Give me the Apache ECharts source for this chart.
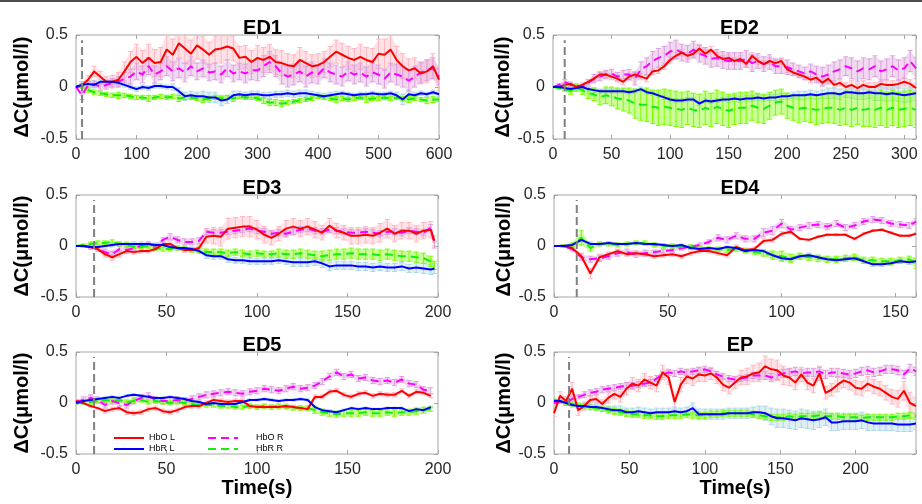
<!DOCTYPE html>
<html><head><meta charset="utf-8">
<script src="https://cdn.jsdelivr.net/npm/echarts@6/dist/echarts.min.js"></script>
<style>html,body{margin:0;padding:0;background:#fff}#c{width:922px;height:504px}</style>
</head><body><div id="c"></div>
<script>
// ---------------- DATA ----------------
const SERIES_NAMES = ['HbO L', 'HbR L', 'HbO R', 'HbR R'];
const PANEL_TITLES = ['ED1', 'ED2', 'ED3', 'ED4', 'ED5', 'EP'];
const X_MAX = [600, 310, 200, 159, 200, 240];
const X_STEP = [100, 50, 50, 50, 50, 50];
const Y_TICKS = [-0.5, 0, 0.5];
const ONSET_T = 10;
const ONSET_Y = [-0.5, 0.45];

// ED1
const ED1_t = [0,10,20,30,40,50,60,70,80,90,100,110,120,130,140,150,160,170,180,190,200,210,220,230,240,250,260,270,280,290,300,310,320,330,340,350,360,370,380,390,400,410,420,430,440,450,460,470,480,490,500,510,520,530,540,550,560,570,580,590,600];
const ED1_HbO_L = [0,0.02,0.07,0.15,0.1,0.05,0.05,0.07,0.15,0.24, 0.29,0.23,0.28,0.23,0.24,0.36,0.31,0.42,0.37,0.32, 0.4,0.36,0.31,0.36,0.37,0.39,0.37,0.28,0.29,0.24, 0.28,0.26,0.29,0.24,0.23,0.21,0.2,0.26,0.23,0.2, 0.21,0.24,0.29,0.34,0.31,0.28,0.26,0.29,0.26,0.24, 0.32,0.31,0.36,0.26,0.2,0.16,0.18,0.13,0.15,0.2, 0.07];
const ED1_HbO_L_err = [0.01,0.03,0.04,0.05,0.05,0.05,0.06,0.07,0.09,0.1, 0.12,0.12,0.13,0.13,0.14,0.15,0.15,0.14,0.14,0.13, 0.13,0.13,0.12,0.13,0.14,0.13,0.12,0.11,0.11,0.11, 0.12,0.12,0.12,0.12,0.12,0.11,0.11,0.12,0.11,0.11, 0.11,0.1,0.1,0.11,0.11,0.11,0.11,0.12,0.12,0.13, 0.14,0.15,0.15,0.13,0.12,0.11,0.1,0.1,0.11,0.12, 0.1];
const ED1_HbR_L = [0,0.02,0.03,0.02,0.05,0.05,0.05,0.04,0.02,0.0, -0.02,0.0,-0.01,0.01,0.01,0.0,0.0,-0.04,-0.09,-0.08, -0.09,-0.09,-0.1,-0.1,-0.13,-0.12,-0.08,-0.07,-0.08,-0.07, -0.07,-0.08,-0.08,-0.07,-0.07,-0.06,-0.07,-0.06,-0.06,-0.07, -0.08,-0.09,-0.08,-0.07,-0.06,-0.07,-0.08,-0.07,-0.07,-0.06, -0.07,-0.07,-0.06,-0.08,-0.12,-0.07,-0.08,-0.06,-0.07,-0.05, -0.07];
const ED1_HbR_L_err = [0.01,0.03,0.03,0.03,0.02,0.02,0.02,0.02,0.02,0.02, 0.02,0.02,0.02,0.02,0.02,0.02,0.03,0.03,0.04,0.04, 0.04,0.05,0.05,0.05,0.05,0.04,0.04,0.03,0.03,0.03, 0.03,0.03,0.03,0.03,0.03,0.03,0.03,0.03,0.03,0.03, 0.03,0.03,0.03,0.03,0.02,0.02,0.02,0.02,0.02,0.02, 0.02,0.02,0.02,0.03,0.05,0.04,0.03,0.02,0.02,0.02, 0.02];
const ED1_HbO_R = [0,-0.08,0.02,0.03,0.0,0.02,0.04,0.05,0.08,0.1, 0.15,0.12,0.2,0.12,0.15,0.2,0.15,0.18,0.14,0.2, 0.15,0.18,0.14,0.15,0.12,0.18,0.13,0.15,0.13,0.16, 0.16,0.2,0.24,0.2,0.13,0.1,0.12,0.15,0.1,0.14, 0.12,0.18,0.14,0.12,0.1,0.15,0.12,0.14,0.1,0.14, 0.12,0.08,0.14,0.12,0.1,0.06,0.1,0.14,0.16,0.18, 0.1];
const ED1_HbO_R_err = [0.01,0.04,0.03,0.03,0.03,0.04,0.04,0.05,0.06,0.07, 0.08,0.08,0.08,0.08,0.08,0.09,0.09,0.09,0.09,0.09, 0.08,0.08,0.08,0.08,0.08,0.08,0.08,0.08,0.09,0.09, 0.1,0.1,0.1,0.1,0.1,0.1,0.1,0.1,0.1,0.1, 0.09,0.09,0.09,0.09,0.09,0.09,0.09,0.09,0.09,0.09, 0.09,0.09,0.09,0.1,0.1,0.1,0.1,0.1,0.1,0.1, 0.08];
const ED1_HbR_R = [0,0.01,-0.03,-0.05,-0.06,-0.07,-0.08,-0.08,-0.08,-0.09, -0.1,-0.1,-0.11,-0.1,-0.09,-0.1,-0.09,-0.11,-0.1,-0.1, -0.11,-0.12,-0.11,-0.1,-0.11,-0.1,-0.11,-0.09,-0.1,-0.1, -0.11,-0.13,-0.15,-0.15,-0.16,-0.15,-0.14,-0.13,-0.12,-0.11, -0.09,-0.1,-0.11,-0.12,-0.11,-0.12,-0.11,-0.1,-0.12,-0.11, -0.11,-0.1,-0.11,-0.1,-0.11,-0.12,-0.11,-0.12,-0.13,-0.12, -0.12];
const ED1_HbR_R_err = [0.01,0.02,0.02,0.02,0.02,0.02,0.02,0.03,0.02,0.02, 0.02,0.02,0.03,0.02,0.02,0.02,0.02,0.03,0.02,0.02, 0.02,0.03,0.02,0.02,0.02,0.02,0.03,0.02,0.02,0.02, 0.02,0.03,0.03,0.03,0.03,0.02,0.02,0.02,0.02,0.02, 0.02,0.02,0.02,0.03,0.02,0.02,0.02,0.02,0.03,0.02, 0.02,0.02,0.02,0.02,0.02,0.03,0.02,0.02,0.03,0.03, 0.02];

// ED2
const ED2_t = [0,5,10,15,20,25,30,35,40,45,50,55,60,65,70,75,80,85,90,95,100,105,110,115,120,125,130,135,140,145,150,155,160,165,170,175,180,185,190,195,200,205,210,215,220,225,230,235,240,245,250,255,260,265,270,275,280,285,290,295,300,305,310];
const ED2_HbO_L = [0,0.0,0.02,0.03,0.0,0.02,0.05,0.08,0.12,0.12, 0.1,0.08,0.05,0.1,0.12,0.1,0.08,0.15,0.16,0.2, 0.26,0.3,0.33,0.3,0.32,0.37,0.32,0.36,0.3,0.27, 0.28,0.25,0.27,0.22,0.3,0.25,0.22,0.25,0.23,0.25, 0.17,0.14,0.12,0.1,0.07,0.09,0.04,0.08,0.02,0.04, 0.0,0.02,-0.01,0.02,0.0,0.0,0.03,0.02,0.02,0.03, 0.05,0.03,-0.01];
const ED2_HbO_L_err = [0,0.01,0.02,0.02,0.02,0.02,0.02,0.02,0.03,0.03, 0.03,0.03,0.03,0.03,0.03,0.03,0.03,0.03,0.03,0.03, 0.03,0.03,0.03,0.03,0.03,0.04,0.04,0.03,0.03,0.03, 0.03,0.03,0.03,0.03,0.03,0.03,0.03,0.03,0.03,0.03, 0.03,0.03,0.03,0.03,0.03,0.03,0.03,0.03,0.03,0.03, 0.04,0.04,0.04,0.04,0.04,0.04,0.04,0.04,0.04,0.04, 0.04,0.04,0.04];
const ED2_HbR_L = [0,0,-0.01,-0.02,-0.01,0,-0.02,-0.03,-0.04,-0.04, -0.04,-0.04,-0.04,-0.05,-0.04,-0.02,-0.05,-0.06,-0.08,-0.1, -0.12,-0.13,-0.13,-0.12,-0.12,-0.16,-0.13,-0.14,-0.13,-0.12, -0.12,-0.11,-0.12,-0.11,-0.11,-0.1,-0.11,-0.1,-0.1,-0.09, -0.09,-0.08,-0.08,-0.08,-0.07,-0.08,-0.07,-0.06,-0.06,-0.07, -0.05,-0.05,-0.06,-0.06,-0.05,-0.06,-0.06,-0.07,-0.06,-0.07, -0.08,-0.07,-0.06];
const ED2_HbR_L_err = [0,0.01,0.01,0.02,0.02,0.02,0.02,0.02,0.02,0.02, 0.02,0.02,0.02,0.02,0.02,0.02,0.02,0.02,0.02,0.02, 0.02,0.02,0.02,0.02,0.02,0.02,0.02,0.02,0.02,0.02, 0.03,0.03,0.03,0.03,0.03,0.03,0.03,0.03,0.03,0.03, 0.03,0.03,0.04,0.04,0.04,0.04,0.04,0.05,0.05,0.05, 0.05,0.06,0.06,0.06,0.06,0.07,0.07,0.07,0.07,0.07, 0.07,0.07,0.07];
const ED2_HbO_R = [0,0.02,0.05,0.02,0.01,0.0,0.04,0.08,0.1,0.12, 0.13,0.1,0.12,0.12,0.08,0.17,0.2,0.25,0.28,0.3, 0.34,0.36,0.33,0.32,0.36,0.32,0.3,0.27,0.28,0.26, 0.25,0.25,0.25,0.27,0.23,0.25,0.22,0.24,0.2,0.2, 0.19,0.17,0.15,0.13,0.15,0.12,0.1,0.12,0.15,0.17, 0.2,0.18,0.15,0.18,0.17,0.2,0.15,0.17,0.2,0.16, 0.18,0.25,0.18];
const ED2_HbO_R_err = [0,0.01,0.02,0.02,0.02,0.02,0.03,0.04,0.04,0.04, 0.04,0.04,0.04,0.05,0.06,0.07,0.08,0.09,0.09,0.09, 0.09,0.09,0.08,0.08,0.08,0.08,0.08,0.08,0.08,0.08, 0.08,0.08,0.08,0.08,0.08,0.07,0.07,0.07,0.07,0.07, 0.07,0.06,0.06,0.06,0.07,0.08,0.09,0.09,0.09,0.09, 0.09,0.1,0.1,0.1,0.1,0.1,0.1,0.1,0.1,0.1, 0.1,0.1,0.1];
const ED2_HbR_R = [0,-0.01,-0.02,-0.04,-0.01,-0.03,-0.06,-0.07,-0.1,-0.08, -0.09,-0.11,-0.12,-0.13,-0.16,-0.17,-0.17,-0.19,-0.2,-0.19, -0.2,-0.21,-0.22,-0.2,-0.22,-0.23,-0.2,-0.22,-0.19,-0.21, -0.23,-0.21,-0.2,-0.2,-0.18,-0.2,-0.21,-0.18,-0.15,-0.14, -0.18,-0.2,-0.21,-0.2,-0.21,-0.22,-0.21,-0.2,-0.2,-0.22, -0.2,-0.22,-0.2,-0.22,-0.21,-0.22,-0.2,-0.22,-0.2,-0.22, -0.21,-0.2,-0.22];
const ED2_HbR_R_err = [0,0.01,0.02,0.03,0.03,0.04,0.05,0.06,0.07,0.08, 0.09,0.1,0.11,0.12,0.14,0.15,0.16,0.16,0.17,0.17, 0.17,0.17,0.17,0.16,0.16,0.16,0.16,0.16,0.16,0.16, 0.16,0.15,0.15,0.15,0.14,0.14,0.14,0.13,0.12,0.12, 0.12,0.12,0.13,0.13,0.13,0.14,0.14,0.14,0.15,0.15, 0.16,0.16,0.16,0.16,0.17,0.17,0.17,0.17,0.17,0.17, 0.17,0.17,0.17];

// ED3
const ED3_t = [0,4,8,12,16,20,24,28,32,36,40,44,48,52,56,60,64,68,72,76,80,84,88,92,96,100,104,108,112,116,120,124,128,132,136,140,144,148,152,156,160,164,168,172,176,180,184,188,192,196,198];
const ED3_HbO_L = [0,0,-0.01,-0.03,-0.08,-0.11,-0.08,-0.05,-0.06,-0.05, -0.05,-0.03,0.02,0.02,-0.02,-0.04,-0.04,-0.02,0.09,0.1, 0.09,0.17,0.18,0.19,0.19,0.16,0.11,0.08,0.12,0.17, 0.19,0.17,0.19,0.16,0.13,0.2,0.15,0.13,0.1,0.1, 0.11,0.1,0.13,0.17,0.12,0.15,0.15,0.12,0.15,0.16, 0.05];
const ED3_HbO_L_err = [0,0.01,0.02,0.02,0.03,0.03,0.03,0.02,0.02,0.02, 0.02,0.02,0.02,0.02,0.02,0.02,0.02,0.03,0.06,0.08, 0.09,0.1,0.1,0.1,0.1,0.09,0.08,0.07,0.07,0.08, 0.08,0.08,0.08,0.08,0.07,0.07,0.07,0.07,0.08,0.08, 0.08,0.08,0.09,0.09,0.08,0.08,0.08,0.08,0.08,0.08, 0.05];
const ED3_HbR_L = [0,0,-0.01,-0.01,0.0,0.01,0.02,0.02,0.02,0.02, 0.02,0.01,0.01,-0.01,-0.02,-0.02,-0.03,-0.05,-0.09,-0.1, -0.1,-0.13,-0.14,-0.14,-0.15,-0.15,-0.15,-0.15,-0.14,-0.15, -0.16,-0.16,-0.16,-0.15,-0.17,-0.2,-0.19,-0.19,-0.19,-0.2, -0.2,-0.21,-0.2,-0.21,-0.21,-0.2,-0.22,-0.21,-0.22,-0.23, -0.22];
const ED3_HbR_L_err = [0,0.01,0.01,0.01,0.01,0.02,0.02,0.02,0.02,0.02, 0.02,0.02,0.02,0.02,0.02,0.02,0.02,0.02,0.03,0.03, 0.03,0.03,0.03,0.03,0.03,0.03,0.03,0.03,0.03,0.03, 0.04,0.04,0.04,0.04,0.04,0.04,0.04,0.04,0.04,0.04, 0.04,0.04,0.04,0.04,0.04,0.04,0.04,0.05,0.05,0.05, 0.05];
const ED3_HbO_R = [0,0,-0.01,-0.03,-0.06,-0.08,-0.03,-0.04,-0.02,0.0, 0.02,0.0,0.06,0.09,0.06,0.04,0.04,0.05,0.14,0.13, 0.13,0.14,0.15,0.16,0.17,0.15,0.14,0.12,0.13,0.12, 0.14,0.16,0.17,0.15,0.14,0.16,0.15,0.14,0.13,0.13, 0.14,0.13,0.12,0.14,0.14,0.13,0.15,0.14,0.13,0.18, 0.01];
const ED3_HbO_R_err = [0,0.01,0.02,0.02,0.03,0.03,0.03,0.03,0.02,0.02, 0.02,0.02,0.02,0.03,0.03,0.03,0.03,0.03,0.03,0.03, 0.03,0.03,0.03,0.03,0.03,0.03,0.03,0.03,0.03,0.03, 0.03,0.03,0.03,0.03,0.03,0.03,0.03,0.03,0.03,0.03, 0.03,0.03,0.03,0.03,0.03,0.03,0.03,0.03,0.03,0.03, 0.03];
const ED3_HbR_R = [0,0.01,0.02,0.03,0.03,0.04,0.02,0.01,-0.01,-0.01, 0.0,-0.02,-0.03,-0.03,-0.02,-0.03,-0.04,-0.04,-0.06,-0.06, -0.06,-0.07,-0.06,-0.07,-0.08,-0.07,-0.08,-0.08,-0.07,-0.08, -0.08,-0.07,-0.08,-0.09,-0.1,-0.09,-0.08,-0.08,-0.07,-0.08, -0.08,-0.08,-0.09,-0.08,-0.09,-0.1,-0.1,-0.11,-0.12,-0.15, -0.19];
const ED3_HbR_R_err = [0,0.01,0.02,0.02,0.02,0.02,0.02,0.02,0.02,0.02, 0.02,0.02,0.02,0.02,0.02,0.02,0.02,0.03,0.03,0.03, 0.03,0.03,0.03,0.03,0.03,0.03,0.03,0.03,0.04,0.04, 0.04,0.04,0.04,0.04,0.05,0.05,0.05,0.05,0.05,0.05, 0.05,0.05,0.05,0.05,0.05,0.05,0.05,0.05,0.05,0.05, 0.04];

// ED4
const ED4_t = [0,4,8,12,16,20,24,28,32,36,40,44,48,52,56,60,64,68,72,76,80,84,88,92,96,100,104,108,112,116,120,124,128,132,136,140,144,148,152,156,159];
const ED4_HbO_L = [0,0,-0.02,-0.1,-0.27,-0.11,-0.08,-0.05,-0.08,-0.07, -0.08,-0.1,-0.09,-0.08,-0.1,-0.07,-0.05,-0.05,-0.07,-0.09, -0.01,-0.04,-0.03,0.05,0.06,0.12,0.14,0.07,0.06,0.09, 0.11,0.11,0.11,0.07,0.12,0.15,0.16,0.13,0.1,0.1, 0.12];
const ED4_HbO_L_err = [0,0.01,0.02,0.03,0.05,0.03,0.02,0.02,0.02,0.02, 0.02,0.02,0.02,0.02,0.02,0.02,0.02,0.02,0.02,0.02, 0.02,0.02,0.02,0.02,0.02,0.02,0.02,0.01,0.01,0.01, 0.01,0.01,0.01,0.01,0.01,0.01,0.01,0.01,0.01,0.01, 0.01];
const ED4_HbR_L = [0,0,0.01,0.06,0.02,0.02,0.03,0.02,0.02,0.03, 0.02,0.02,0.01,0.0,0.01,-0.02,-0.03,-0.02,-0.03,-0.01, -0.02,-0.05,-0.04,-0.05,-0.09,-0.12,-0.13,-0.1,-0.09,-0.11, -0.13,-0.14,-0.13,-0.12,-0.15,-0.18,-0.18,-0.17,-0.15,-0.16, -0.15];
const ED4_HbR_L_err = [0,0.01,0.01,0.02,0.02,0.01,0.01,0.01,0.01,0.01, 0.01,0.01,0.01,0.01,0.01,0.01,0.01,0.01,0.01,0.01, 0.01,0.01,0.01,0.01,0.02,0.02,0.02,0.02,0.02,0.02, 0.02,0.02,0.02,0.02,0.02,0.02,0.02,0.02,0.02,0.02, 0.02];
const ED4_HbO_R = [0,0,-0.03,-0.11,-0.13,-0.12,-0.1,-0.07,-0.06,-0.08, -0.07,-0.06,-0.05,-0.04,-0.02,-0.01,0.01,0.04,0.08,0.06, 0.1,0.07,0.07,0.13,0.15,0.22,0.16,0.18,0.2,0.21, 0.19,0.22,0.18,0.2,0.24,0.26,0.25,0.22,0.21,0.2, 0.24];
const ED4_HbO_R_err = [0,0.01,0.02,0.03,0.03,0.03,0.03,0.03,0.03,0.03, 0.03,0.02,0.02,0.02,0.02,0.02,0.02,0.02,0.03,0.03, 0.03,0.03,0.03,0.04,0.04,0.04,0.03,0.03,0.03,0.03, 0.03,0.03,0.03,0.03,0.03,0.03,0.03,0.03,0.03,0.03, 0.03];
const ED4_HbR_R = [0,0,0.01,0.08,-0.02,0.02,0.02,0.01,0.02,0.03, 0.03,0.01,0.0,0.0,-0.01,-0.01,-0.02,-0.03,-0.03,-0.04, -0.03,-0.05,-0.06,-0.07,-0.09,-0.1,-0.12,-0.1,-0.11,-0.12, -0.13,-0.13,-0.12,-0.11,-0.14,-0.14,-0.15,-0.15,-0.14,-0.13, -0.17];
const ED4_HbR_R_err = [0,0.01,0.02,0.07,0.03,0.02,0.02,0.02,0.02,0.02, 0.02,0.02,0.02,0.02,0.02,0.02,0.02,0.02,0.02,0.02, 0.02,0.02,0.02,0.03,0.04,0.05,0.04,0.03,0.03,0.03, 0.03,0.03,0.03,0.03,0.03,0.03,0.03,0.03,0.03,0.03, 0.05];

// ED5
const ED5_t = [0,4,8,12,16,20,24,28,32,36,40,44,48,52,56,60,64,68,72,76,80,84,88,92,96,100,104,108,112,116,120,124,128,132,136,140,144,148,152,156,160,164,168,172,176,180,184,188,192,196];
const ED5_HbO_L = [0.02,0.0,-0.03,-0.05,-0.08,-0.06,-0.05,-0.09,-0.1,-0.09, -0.06,-0.05,-0.08,-0.09,-0.07,-0.04,-0.03,-0.03,0.0,0.03, 0.02,0.01,0.02,0.02,-0.03,-0.04,-0.04,-0.04,-0.04,-0.03, -0.04,-0.05,-0.06,0.06,0.06,0.11,0.12,0.08,0.06,0.09, 0.1,0.07,0.09,0.08,0.08,0.12,0.07,0.11,0.1,0.07];
const ED5_HbO_L_err = [0.01,0.01,0.01,0.01,0.02,0.02,0.02,0.02,0.02,0.02, 0.02,0.02,0.02,0.02,0.02,0.02,0.02,0.02,0.02,0.02, 0.02,0.02,0.02,0.02,0.02,0.02,0.02,0.02,0.02,0.02, 0.02,0.02,0.02,0.02,0.02,0.02,0.02,0.02,0.02,0.02, 0.02,0.02,0.02,0.02,0.02,0.02,0.02,0.02,0.02,0.02];
const ED5_HbR_L = [0,0.02,0.03,0.04,0.05,0.06,0.05,0.07,0.08,0.07, 0.06,0.05,0.05,0.06,0.05,0.04,0.02,0.01,-0.01,0.0, -0.01,-0.01,-0.01,0.01,0.03,0.03,0.04,0.03,0.02,0.03, 0.03,0.04,0.03,-0.04,-0.07,-0.08,-0.09,-0.07,-0.05,-0.06, -0.05,-0.06,-0.06,-0.05,-0.05,-0.05,-0.08,-0.06,-0.07,-0.04];
const ED5_HbR_L_err = [0.01,0.01,0.01,0.01,0.01,0.01,0.01,0.01,0.01,0.01, 0.01,0.01,0.01,0.01,0.01,0.01,0.01,0.01,0.01,0.01, 0.01,0.01,0.01,0.01,0.01,0.01,0.01,0.01,0.01,0.01, 0.01,0.01,0.01,0.01,0.01,0.01,0.01,0.01,0.01,0.01, 0.01,0.01,0.01,0.01,0.01,0.01,0.01,0.01,0.01,0.01];
const ED5_HbO_R = [0.01,0.03,0.05,0.03,-0.02,0.02,0.0,-0.02,0.02,0.05, 0.07,0.03,0.02,0.02,0.03,0.02,0.04,0.06,0.08,0.09, 0.1,0.11,0.1,0.09,0.11,0.12,0.14,0.13,0.12,0.14, 0.16,0.14,0.15,0.17,0.21,0.26,0.3,0.26,0.28,0.24, 0.25,0.22,0.21,0.22,0.2,0.23,0.19,0.18,0.13,0.12];
const ED5_HbO_R_err = [0.02,0.03,0.03,0.03,0.03,0.03,0.03,0.03,0.03,0.03, 0.03,0.03,0.03,0.03,0.03,0.03,0.03,0.03,0.03,0.03, 0.03,0.03,0.03,0.03,0.03,0.03,0.03,0.03,0.03,0.03, 0.03,0.03,0.03,0.03,0.03,0.03,0.03,0.03,0.03,0.03, 0.03,0.03,0.03,0.03,0.03,0.03,0.03,0.03,0.03,0.03];
const ED5_HbR_R = [0,0.0,0.01,0.02,0.03,0.02,0.03,0.01,0.02,0.03, 0.01,0.02,0.01,0.0,0.01,0.0,-0.01,-0.02,-0.02,-0.02, -0.03,-0.03,-0.04,-0.04,-0.03,-0.04,-0.03,-0.04,-0.03,-0.04, -0.05,-0.05,-0.05,-0.07,-0.09,-0.1,-0.11,-0.1,-0.1,-0.1, -0.09,-0.1,-0.1,-0.09,-0.1,-0.09,-0.09,-0.08,-0.07,-0.06];
const ED5_HbR_R_err = [0.01,0.01,0.02,0.02,0.02,0.02,0.02,0.02,0.02,0.02, 0.02,0.02,0.02,0.02,0.02,0.02,0.02,0.02,0.02,0.02, 0.02,0.02,0.02,0.02,0.02,0.02,0.02,0.02,0.02,0.02, 0.02,0.02,0.02,0.03,0.03,0.03,0.03,0.03,0.03,0.03, 0.03,0.03,0.03,0.03,0.03,0.03,0.03,0.03,0.03,0.02];

// EP
const EP_t = [0,4,8,12,16,20,24,28,32,36,40,44,48,52,56,60,64,68,72,76,80,84,88,92,96,100,104,108,112,116,120,124,128,132,136,140,144,148,152,156,160,164,168,172,176,180,184,188,192,196,200,204,208,212,216,220,224,228,232,236,240];
const EP_HbO_L = [-0.1,0.07,0.02,0.14,-0.07,-0.03,0.03,0.04,-0.01,0.05, 0.09,0.06,0.14,0.19,0.17,0.23,0.2,0.17,0.3,0.25, 0.01,0.18,0.26,0.24,0.28,0.27,0.29,0.25,0.18,0.15, 0.2,0.25,0.26,0.29,0.3,0.36,0.33,0.32,0.27,0.25, 0.2,0.28,0.2,0.17,0.29,0.1,0.13,0.18,0.22,0.2, 0.15,0.14,0.19,0.16,0.14,0.1,0.06,0.04,0.12,0.0, -0.03];
const EP_HbO_L_err = [0.03,0.04,0.04,0.06,0.05,0.04,0.04,0.04,0.04,0.05, 0.05,0.05,0.06,0.06,0.06,0.06,0.06,0.06,0.07,0.07, 0.07,0.07,0.07,0.07,0.07,0.06,0.06,0.06,0.06,0.06, 0.06,0.07,0.08,0.08,0.09,0.1,0.1,0.1,0.09,0.08, 0.07,0.07,0.07,0.07,0.07,0.06,0.06,0.07,0.07,0.07, 0.07,0.07,0.07,0.07,0.07,0.07,0.07,0.08,0.09,0.1, 0.08];
const EP_HbR_L = [0.02,0.02,0.0,-0.02,-0.03,-0.03,-0.04,-0.04,-0.05,-0.06, -0.07,-0.07,-0.09,-0.09,-0.08,-0.09,-0.1,-0.09,-0.09,-0.09, -0.08,-0.09,-0.08,-0.05,-0.11,-0.11,-0.11,-0.11,-0.11,-0.1, -0.1,-0.1,-0.1,-0.09,-0.09,-0.1,-0.13,-0.15,-0.15,-0.16, -0.17,-0.15,-0.16,-0.17,-0.16,-0.14,-0.19,-0.19,-0.18,-0.18, -0.18,-0.17,-0.19,-0.2,-0.2,-0.2,-0.2,-0.21,-0.21,-0.21, -0.2];
const EP_HbR_L_err = [0.01,0.01,0.02,0.02,0.02,0.03,0.03,0.03,0.03,0.03, 0.04,0.04,0.04,0.04,0.04,0.04,0.04,0.04,0.04,0.04, 0.04,0.04,0.04,0.05,0.05,0.05,0.05,0.05,0.05,0.05, 0.05,0.05,0.05,0.05,0.06,0.07,0.08,0.09,0.09,0.09, 0.09,0.09,0.09,0.09,0.08,0.08,0.08,0.08,0.08,0.08, 0.08,0.08,0.08,0.07,0.07,0.07,0.07,0.07,0.07,0.07, 0.06];
const EP_HbO_R = [0.0,0.01,0.0,0.04,0.06,0.08,0.1,0.11,0.13,0.14, 0.15,0.16,0.17,0.17,0.18,0.19,0.2,0.24,0.28,0.3, 0.29,0.31,0.3,0.31,0.32,0.33,0.31,0.28,0.26,0.24, 0.23,0.24,0.25,0.27,0.27,0.27,0.25,0.27,0.29,0.3, 0.31,0.29,0.3,0.3,0.31,0.28,0.3,0.3,0.29,0.28, 0.29,0.31,0.32,0.3,0.31,0.33,0.33,0.32,0.28,0.34, 0.31];
const EP_HbO_R_err = [0.01,0.01,0.02,0.02,0.02,0.03,0.03,0.03,0.03,0.03, 0.03,0.03,0.03,0.03,0.03,0.03,0.03,0.03,0.03,0.03, 0.03,0.03,0.03,0.03,0.03,0.03,0.03,0.03,0.03,0.03, 0.03,0.03,0.03,0.03,0.04,0.04,0.04,0.04,0.04,0.04, 0.04,0.04,0.04,0.04,0.04,0.04,0.04,0.04,0.04,0.04, 0.04,0.04,0.04,0.04,0.04,0.04,0.04,0.04,0.04,0.04, 0.04];
const EP_HbR_R = [0.03,0.02,0.0,-0.01,-0.02,-0.03,-0.04,-0.05,-0.06,-0.07, -0.08,-0.09,-0.1,-0.11,-0.11,-0.12,-0.12,-0.13,-0.13,-0.12, -0.12,-0.12,-0.11,-0.12,-0.12,-0.12,-0.11,-0.11,-0.1,-0.1, -0.1,-0.1,-0.1,-0.11,-0.12,-0.13,-0.14,-0.14,-0.14,-0.13, -0.14,-0.13,-0.13,-0.13,-0.12,-0.13,-0.13,-0.13,-0.14,-0.14, -0.14,-0.15,-0.14,-0.14,-0.14,-0.14,-0.14,-0.13,-0.13,-0.12, -0.13];
const EP_HbR_R_err = [0.01,0.01,0.02,0.02,0.02,0.02,0.02,0.02,0.02,0.03, 0.03,0.03,0.03,0.03,0.03,0.03,0.03,0.03,0.03,0.03, 0.03,0.03,0.03,0.03,0.03,0.03,0.03,0.03,0.03,0.03, 0.03,0.03,0.03,0.03,0.03,0.03,0.03,0.03,0.03,0.03, 0.03,0.03,0.03,0.03,0.03,0.03,0.03,0.03,0.03,0.03, 0.03,0.03,0.03,0.03,0.03,0.03,0.03,0.03,0.03,0.03, 0.03];

// ---------------- PANELS (references to the arrays above) ----------------
const PANEL_DATA = [
  {t: ED1_t, v: [ED1_HbO_L, ED1_HbR_L, ED1_HbO_R, ED1_HbR_R], e: [ED1_HbO_L_err, ED1_HbR_L_err, ED1_HbO_R_err, ED1_HbR_R_err]},
  {t: ED2_t, v: [ED2_HbO_L, ED2_HbR_L, ED2_HbO_R, ED2_HbR_R], e: [ED2_HbO_L_err, ED2_HbR_L_err, ED2_HbO_R_err, ED2_HbR_R_err]},
  {t: ED3_t, v: [ED3_HbO_L, ED3_HbR_L, ED3_HbO_R, ED3_HbR_R], e: [ED3_HbO_L_err, ED3_HbR_L_err, ED3_HbO_R_err, ED3_HbR_R_err]},
  {t: ED4_t, v: [ED4_HbO_L, ED4_HbR_L, ED4_HbO_R, ED4_HbR_R], e: [ED4_HbO_L_err, ED4_HbR_L_err, ED4_HbO_R_err, ED4_HbR_R_err]},
  {t: ED5_t, v: [ED5_HbO_L, ED5_HbR_L, ED5_HbO_R, ED5_HbR_R], e: [ED5_HbO_L_err, ED5_HbR_L_err, ED5_HbO_R_err, ED5_HbR_R_err]},
  {t: EP_t,  v: [EP_HbO_L,  EP_HbR_L,  EP_HbO_R,  EP_HbR_R],  e: [EP_HbO_L_err,  EP_HbR_L_err,  EP_HbO_R_err,  EP_HbR_R_err]}
];

// ---------------- STYLE / LAYOUT ----------------
const FONT = '"Liberation Sans", Arial, Helvetica, sans-serif';
const LINE_COLORS = ['#ff0000', '#0000ff', '#ff00ff', '#11ee11'];
const ERR_COLORS = ['#ffb6c1', '#add8e6', '#dda0dd', '#7cfc00'];
const DASHED = [false, false, true, true];
const BOX = '#a6a6a6';
const GRIDS = [
  {left: 76,  top: 35,  width: 363, height: 104, gap: 44},
  {left: 553, top: 35,  width: 363, height: 104, gap: 31},
  {left: 76,  top: 195, width: 362, height: 102, gap: 44},
  {left: 554, top: 195, width: 362, height: 102, gap: 31},
  {left: 76,  top: 352, width: 362, height: 102, gap: 44},
  {left: 554, top: 352, width: 362, height: 102, gap: 31}
];

// error bars: vertical bar + caps, plus a faint band to the next sample
function errRenderer(color, ts, vs, es) {
  return function (params, api) {
    const k = params.dataIndex;
    const x = api.value(0), y = api.value(1), e = api.value(2);
    const hi = api.coord([x, y + e]);
    const lo = api.coord([x, y - e]);
    const c = 2.5;
    const st = {stroke: color, lineWidth: 1, fill: null};
    const children = [];
    if (k + 1 < ts.length) {
      const hi2 = api.coord([ts[k + 1], vs[k + 1] + es[k + 1]]);
      const lo2 = api.coord([ts[k + 1], vs[k + 1] - es[k + 1]]);
      children.push({type: 'polygon', shape: {points: [hi, hi2, lo2, lo]},
        style: {fill: color, opacity: 0.4, stroke: null}});
    }
    children.push(
      {type: 'line', shape: {x1: hi[0], y1: hi[1], x2: lo[0], y2: lo[1]}, style: st},
      {type: 'line', shape: {x1: hi[0] - c, y1: hi[1], x2: hi[0] + c, y2: hi[1]}, style: st},
      {type: 'line', shape: {x1: lo[0] - c, y1: lo[1], x2: lo[0] + c, y2: lo[1]}, style: st}
    );
    return {type: 'group', children: children};
  };
}

const grid = [], xAxis = [], yAxis = [], series = [], title = [];
const tickStyle = {show: true, inside: true, length: 4, lineStyle: {color: BOX}};
GRIDS.forEach((g, i) => {
  grid.push({left: g.left, top: g.top, width: g.width, height: g.height, show: true,
    borderColor: BOX, borderWidth: 1, backgroundColor: 'transparent', containLabel: false});
  const step = X_STEP[i];
  const isBottom = i >= 4;
  xAxis.push({type: 'value', gridIndex: i, min: 0, max: X_MAX[i], interval: step, position: 'bottom',
    name: isBottom ? 'Time(s)' : '', nameLocation: 'middle', nameGap: 24,
    nameTextStyle: {fontFamily: FONT, fontSize: 20, fontWeight: 'bold', color: '#000'},
    axisLine: {show: false, onZero: false},
    axisTick: tickStyle,
    axisLabel: {show: true, margin: 8, fontFamily: FONT, fontSize: 16, color: '#262626',
      formatter: v => (Math.abs(v % step) < 1e-9 ? String(v) : '')},
    splitLine: {show: false}});
  xAxis.push({type: 'value', gridIndex: i, min: 0, max: X_MAX[i], interval: step, position: 'top',
    axisLine: {show: false, onZero: false}, axisLabel: {show: false},
    axisTick: tickStyle, splitLine: {show: false}});
  yAxis.push({type: 'value', gridIndex: i, min: Y_TICKS[0], max: Y_TICKS[2], interval: Y_TICKS[1] - Y_TICKS[0], position: 'left',
    name: 'ΔC(μmol/l)', nameLocation: 'middle', nameGap: g.gap,
    nameTextStyle: {fontFamily: FONT, fontSize: 20, fontWeight: 'bold', color: '#000'},
    axisLine: {show: false, onZero: false},
    axisTick: tickStyle,
    axisLabel: {margin: 8, fontFamily: FONT, fontSize: 16, color: '#262626'},
    splitLine: {show: false}});
  yAxis.push({type: 'value', gridIndex: i, min: Y_TICKS[0], max: Y_TICKS[2], interval: Y_TICKS[1] - Y_TICKS[0], position: 'right',
    axisLine: {show: false, onZero: false}, axisLabel: {show: false},
    axisTick: tickStyle, splitLine: {show: false}});
  title.push({text: PANEL_TITLES[i], left: g.left + g.width / 2, top: g.top - 22, textAlign: 'center',
    textStyle: {fontFamily: FONT, fontSize: 20, fontWeight: 'bold', color: '#000'}});

  const P = PANEL_DATA[i];
  const xi = 2 * i, yi = 2 * i;
  for (let s = 0; s < 4; s++) {
    series.push({type: 'custom', name: SERIES_NAMES[s] + ' err', xAxisIndex: xi, yAxisIndex: yi,
      renderItem: errRenderer(ERR_COLORS[s], P.t, P.v[s], P.e[s]), clip: true, silent: true, z: 1,
      encode: {x: 0, y: 1},
      data: P.t.map((t, k) => [t, P.v[s][k], P.e[s][k]])});
  }
  const order = [2, 3, 0, 1];
  order.forEach(s => {
    series.push({type: 'line', name: SERIES_NAMES[s], xAxisIndex: xi, yAxisIndex: yi,
      showSymbol: false, symbol: 'none', smooth: false, clip: true, z: 3,
      color: LINE_COLORS[s],
      lineStyle: {color: LINE_COLORS[s], width: 2, type: DASHED[s] ? [8, 5] : 'solid'},
      data: P.t.map((t, k) => [t, P.v[s][k]])});
  });
  series.push({type: 'line', name: 'onset', xAxisIndex: xi, yAxisIndex: yi, symbol: 'none', z: 4,
    silent: true, lineStyle: {color: '#808080', width: 2, type: [8, 4]},
    data: [[ONSET_T, ONSET_Y[0]], [ONSET_T, ONSET_Y[1]]]});
});

const legendCommon = {orient: 'vertical', itemWidth: 30, itemHeight: 8, itemGap: 1,
  itemStyle: {opacity: 0}, selectedMode: false};
const option = {
  animation: false,
  backgroundColor: '#fff',
  title: title,
  grid: grid, xAxis: xAxis, yAxis: yAxis,
  legend: [
    Object.assign({}, legendCommon, {data: ['HbO L', 'HbR L'], left: 108, top: 428,
      textStyle: {fontFamily: FONT, fontSize: 9, color: '#000', lineHeight: 10}}),
    Object.assign({}, legendCommon, {data: ['HbO R', 'HbR R'], left: 202, top: 428,
      textStyle: {fontFamily: FONT, fontSize: 9, color: '#000', lineHeight: 10, padding: [0, 0, 0, 13]}})
  ],
  graphic: [{type: 'rect', left: 0, top: 0, shape: {width: 922, height: 2}, style: {fill: '#4d4d4d'}, silent: true}],
  series: series
};
const chart = echarts.init(document.getElementById('c'), null, {renderer: 'canvas'});
chart.setOption(option);
</script></body></html>
